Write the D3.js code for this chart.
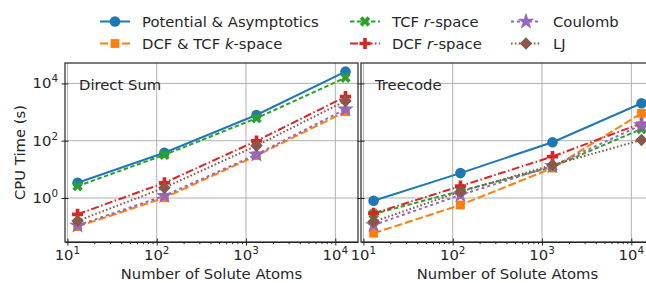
<html>
<head>
<script src="https://d3js.org/d3.v7.min.js"></script>
<style>
  body { margin: 0; background: #fff; }
  text { font-family: "DejaVu Sans", sans-serif; fill: #262626; }
</style>
</head>
<body>
<svg id="chart" width="646" height="283"></svg>
<script>
// number of solute atoms (x)
var atoms = [13, 122, 1310, 13000];

// CPU time (s), direct sum panel
var potDS    = [3.4, 38, 790, 25700];
var kspaceDS = [0.10, 1.02, 30, 1030];
var tcfrDS   = [2.6, 32, 610, 15800];
var dcfrDS   = [0.27, 3.4, 98, 3450];
var coulDS   = [0.11, 1.2, 33, 1260];
var ljDS     = [0.158, 2.3, 67, 2450];

// CPU time (s), treecode panel
var potTC    = [0.80, 7.4, 88, 2030];
var kspaceTC = [0.059, 0.57, 11.1, 910];
var tcfrTC   = [0.276, 1.75, 12.1, 257];
var dcfrTC   = [0.29, 2.6, 28, 405];
var coulTC   = [0.114, 1.27, 13.1, 354];
var ljTC     = [0.149, 1.66, 14.2, 106];

var seriesNames = ["Potential & Asymptotics", "DCF & TCF k-space", "TCF r-space", "DCF r-space", "Coulomb", "LJ"];
var panelTitles = ["Direct Sum", "Treecode"];
var xTicks = [10, 100, 1000, 10000];
var yTicks = [1, 100, 10000];

// styles
var colors = ["#1f77b4", "#ff7f0e", "#2ca02c", "#d62728", "#9467bd", "#8c564b"];
var dashes = [null, "8,3", "4.5,2.5", "8,2.5,1.5,2.5", "3,3", "1.6,2.2"];
var markers = [
  {type: d3.symbolCircle, size: 88, rot: 0},
  {type: d3.symbolSquare, size: 78, rot: 0},
  {type: d3.symbolCross,  size: 68, rot: 45},
  {type: d3.symbolCross,  size: 68, rot: 0},
  {type: d3.symbolStar,   size: 90, rot: 0},
  {type: d3.symbolSquare, size: 78, rot: 45}
];

var panels = [
  {title: panelTitles[0], data: [potDS, kspaceDS, tcfrDS, dcfrDS, coulDS, ljDS], left: 65, yLabels: true},
  {title: panelTitles[1], data: [potTC, kspaceTC, tcfrTC, dcfrTC, coulTC, ljTC], left: 361, yLabels: false}
];

var svg = d3.select("#chart");
var plotTop = 63, pw = 293, ph = 179;
var fs = 14.8;

var x = d3.scaleLog().domain([Math.pow(10, 0.973), Math.pow(10, 4.254)]).range([0, pw]);
var y = d3.scaleLog().domain([Math.pow(10, -1.536), Math.pow(10, 4.712)]).range([ph, 0]);

var minorX = [];
[1, 10, 100, 1000, 10000].forEach(function(d) {
  for (var k = 2; k <= 9; k++) {
    var v = d * k;
    if (v > x.domain()[0] && v < x.domain()[1]) minorX.push(v);
  }
});

function powLabel(sel, exp) {
  sel.append("tspan").text("10");
  sel.append("tspan").attr("dy", -6).attr("font-size", fs * 0.7).text(exp);
}

panels.forEach(function(p, pi) {
  var clipId = "clip" + pi;
  svg.append("clipPath").attr("id", clipId)
    .append("rect").attr("x", -8).attr("y", -8).attr("width", pw + 16).attr("height", ph + 16);

  var g = svg.append("g").attr("transform", "translate(" + p.left + "," + plotTop + ")");

  // grid
  g.append("g").selectAll("line").data(xTicks).enter().append("line")
    .attr("x1", function(d) { return x(d); }).attr("x2", function(d) { return x(d); })
    .attr("y1", 0).attr("y2", ph)
    .attr("stroke", "#b0b0b0").attr("stroke-width", 1);
  g.append("g").selectAll("line").data(yTicks).enter().append("line")
    .attr("y1", function(d) { return y(d); }).attr("y2", function(d) { return y(d); })
    .attr("x1", 0).attr("x2", pw)
    .attr("stroke", "#b0b0b0").attr("stroke-width", 1);

  // x axis major + minor ticks
  var xa = g.append("g").attr("transform", "translate(0," + ph + ")")
    .call(d3.axisBottom(x).tickValues(xTicks).tickSize(3.5).tickSizeOuter(0).tickFormat(""));
  xa.selectAll(".tick line").attr("y1", -3.5);
  g.append("g").attr("transform", "translate(0," + ph + ")")
    .call(d3.axisBottom(x).tickValues(minorX).tickSize(2.2).tickSizeOuter(0).tickFormat(""))
    .select(".domain").remove();
  xTicks.forEach(function(d) {
    var t = g.append("text").attr("x", x(d)).attr("y", ph + 18)
      .attr("text-anchor", "middle").attr("font-size", fs);
    powLabel(t, String(Math.round(Math.log10(d))));
  });

  // y axis ticks
  var ya = g.append("g")
    .call(d3.axisLeft(y).tickValues(yTicks).tickSize(3.5).tickSizeOuter(0).tickFormat(""));
  ya.selectAll(".tick line").attr("x1", 3.5);
  ya.select(".domain").remove();
  if (p.yLabels) {
    yTicks.forEach(function(d) {
      var t = g.append("text").attr("x", -7).attr("y", y(d) + 5)
        .attr("text-anchor", "end").attr("font-size", fs);
      powLabel(t, String(Math.round(Math.log10(d))));
    });
  }

  svg.selectAll(".domain").attr("stroke", "#262626");
  g.selectAll(".tick line").attr("stroke", "#262626");

  // series
  var plot = g.append("g").attr("clip-path", "url(#" + clipId + ")");
  var line = d3.line()
    .x(function(d, i) { return x(atoms[i]); })
    .y(function(d) { return y(d); });
  p.data.forEach(function(vals, si) {
    plot.append("path").datum(vals)
      .attr("d", line)
      .attr("fill", "none")
      .attr("stroke", colors[si])
      .attr("stroke-width", 2)
      .attr("stroke-dasharray", dashes[si]);
    plot.selectAll(".m" + si).data(vals).enter().append("path")
      .attr("d", d3.symbol().type(markers[si].type).size(markers[si].size))
      .attr("transform", function(d, i) {
        return "translate(" + x(atoms[i]) + "," + y(d) + ") rotate(" + markers[si].rot + ")";
      })
      .attr("fill", colors[si]);
  });

  // frame
  g.append("rect").attr("x", 0).attr("y", 0).attr("width", pw).attr("height", ph)
    .attr("fill", "none").attr("stroke", "#262626").attr("stroke-width", 1.2);

  g.append("text").attr("x", 14).attr("y", 27).attr("font-size", fs).text(p.title);

  g.append("text").attr("x", pw / 2).attr("y", ph + 37)
    .attr("text-anchor", "middle").attr("font-size", fs).text("Number of Solute Atoms");
});

svg.append("text")
  .attr("transform", "translate(25," + (plotTop + ph / 2) + ") rotate(-90)")
  .attr("text-anchor", "middle").attr("font-size", fs).text("CPU Time (s)");

// legend, 3 columns x 2 rows, column-major
var legX = [100, 350, 511];
var legY = [21.5, 43.5];
seriesNames.forEach(function(name, si) {
  var cx = legX[Math.floor(si / 2)], cy = legY[si % 2];
  var lg = svg.append("g").attr("transform", "translate(" + cx + "," + cy + ")");
  lg.append("line").attr("x1", 0).attr("x2", 30).attr("y1", 0).attr("y2", 0)
    .attr("stroke", colors[si]).attr("stroke-width", 2)
    .attr("stroke-dasharray", dashes[si]);
  lg.append("path")
    .attr("d", d3.symbol().type(markers[si].type).size(markers[si].size))
    .attr("transform", "translate(15,0) rotate(" + markers[si].rot + ")")
    .attr("fill", colors[si]);
  var t = lg.append("text").attr("x", 42).attr("y", 5).attr("font-size", fs);
  var m = name.match(/^(.*?)([kr])(-space)$/);
  if (m) {
    t.append("tspan").text(m[1]);
    t.append("tspan").attr("font-style", "italic").text(m[2]);
    t.append("tspan").text(m[3]);
  } else {
    t.text(name);
  }
});
</script>
</body>
</html>
